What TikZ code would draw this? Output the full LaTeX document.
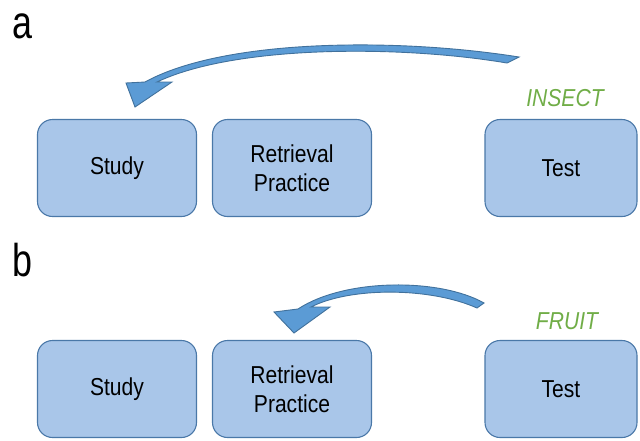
\documentclass[tikz,border=0pt]{standalone}
\usepackage{fontspec}
\setmainfont{Liberation Sans}[FakeStretch=0.86]
\newfontfamily\labfont{Liberation Sans}[FakeStretch=0.78]
\definecolor{boxfill}{HTML}{A9C6E9}
\definecolor{boxline}{HTML}{4A78A8}
\definecolor{arrfill}{HTML}{5B9BD5}
\definecolor{arrline}{HTML}{41719C}
\definecolor{cuegreen}{HTML}{70AD47}
\begin{document}
\begin{tikzpicture}[x=1pt,y=-1pt,
  stagebox/.style={draw=boxline, fill=boxfill, line width=1.1pt, rounded corners=15pt,
    minimum width=159pt, minimum height=97pt, inner sep=0pt, align=center,
    font=\fontsize{24.5}{29}\selectfont},
  curvedarrow/.style={draw=arrline, fill=arrfill, line width=0.9pt, line join=miter},
  cue/.style={text=cuegreen, font=\fontsize{24.5}{28}\selectfont\itshape},
  panellabel/.style={font=\labfont\fontsize{46}{50}\selectfont, anchor=base west}]
\useasboundingbox (0,0) rectangle (640,440);
% panel a
\node[panellabel] (la) at (9,38) {a};
\node[stagebox] (sa) at (117,168) {Study};
\node[stagebox] (ra) at (292,168) {Retrieval\\Practice};
\node[stagebox, minimum width=152pt] (ta) at (561,168) {Test};
\node[cue] (ca) at (565,98) {INSECT};
\path[curvedarrow] (519,57) .. controls (400,38) and (225,38) .. (145,82)
  -- (126,83) -- (135,107) -- (172,82) -- (157,82)
  .. controls (235,45) and (400,45) .. (507,63) -- cycle;
% panel b
\node[panellabel] (lb) at (9,276) {b};
\node[stagebox] (sb) at (117,389) {Study};
\node[stagebox] (rb) at (292,389) {Retrieval\\Practice};
\node[stagebox, minimum width=152pt] (tb) at (561,389) {Test};
\node[cue] (cb) at (567,321) {FRUIT};
\path[curvedarrow] (484,303) .. controls (440,278) and (345,278) .. (298,309)
  -- (274,312) -- (294,333) -- (330,307) -- (311,307)
  .. controls (350,287) and (430,287) .. (477,308) -- cycle;
\end{tikzpicture}
\end{document}
